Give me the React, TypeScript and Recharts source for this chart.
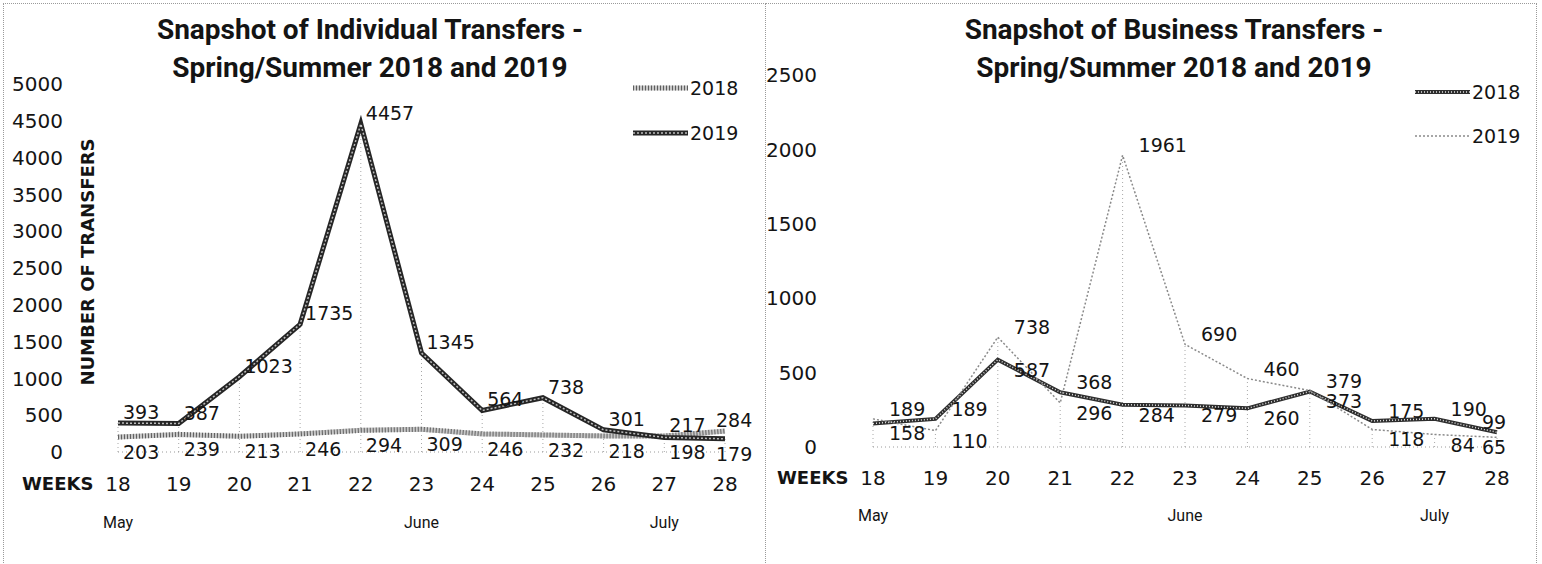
import React from 'react'
import { LineChart, Line, XAxis, YAxis, LabelList, ReferenceLine } from 'recharts'

const weeks = ['18', '19', '20', '21', '22', '23', '24', '25', '26', '27', '28']
const months = ['May', '', '', '', '', 'June', '', '', '', 'July', '']

const individual2018 = [203, 239, 213, 246, 294, 309, 246, 232, 218, 217, 284]
const individual2019 = [393, 387, 1023, 1735, 4457, 1345, 564, 738, 301, 198, 179]
const business2018 = [158, 189, 587, 368, 284, 279, 260, 373, 175, 190, 99]
const business2019 = [189, 110, 738, 296, 1961, 690, 460, 379, 118, 84, 65]

const individualTicks = [0, 500, 1000, 1500, 2000, 2500, 3000, 3500, 4000, 4500, 5000]
const businessTicks = [0, 500, 1000, 1500, 2000, 2500]

const FONT = '"DejaVu Sans", sans-serif'
const CAPTION = 'Roboto, "DejaVu Sans", sans-serif'
const INK = '#141414'
const X_AXIS_HEIGHT = 30

type LineStyle = { base: string; baseWidth: number; baseDash?: string; over?: string; overWidth?: number; overDash?: string }

const styles: Record<string, LineStyle> = {
  indiv2018: { base: '#c8c8c8', baseWidth: 5, over: '#5e5e5e', overWidth: 5, overDash: '1 2' },
  indiv2019: { base: '#262626', baseWidth: 5, over: '#bdbdbd', overWidth: 1.5, overDash: '2 2' },
  bus2018: { base: '#2e2e2e', baseWidth: 4, over: '#e0e0e0', overWidth: 1.5, overDash: '1 2' },
  bus2019: { base: '#8a8a8a', baseWidth: 1.5, baseDash: '2 2' },
}

const makeLabel = (own: number[], other: number[], dx: number, lastDx: number, up: number, down: number) => (props: any) => {
  const { x, y, index, value } = props
  if (x == null || y == null) return null
  const above = own[index] >= other[index]
  const shift = index === own.length - 1 ? lastDx : dx
  return (
    <text x={x + shift} y={y + (above ? up : down)} fontSize={19} fill={INK} fontFamily={FONT} textAnchor="start" dominantBaseline="central">
      {value}
    </text>
  )
}

const makeTick = (weekDy: number, monthDy: number) => (props: any) => {
  const { x, y, payload, index } = props
  return (
    <g>
      <text x={x} y={y + weekDy} textAnchor="middle" dominantBaseline="central" fontSize={20} fill={INK} fontFamily={FONT}>
        {payload.value}
      </text>
      {months[index] ? (
        <text x={x} y={y + monthDy} textAnchor="middle" dominantBaseline="central" fontSize={16} fill={INK} fontFamily={CAPTION}>
          {months[index]}
        </text>
      ) : null}
    </g>
  )
}

const Sample = ({ s }: { s: LineStyle }) => (
  <svg width={55} height={10} style={{ display: 'block' }}>
    <line x1={0} x2={55} y1={5} y2={5} stroke={s.base} strokeWidth={s.baseWidth} strokeDasharray={s.baseDash} />
    {s.over ? <line x1={0} x2={55} y1={5} y2={5} stroke={s.over} strokeWidth={s.overWidth} strokeDasharray={s.overDash} /> : null}
  </svg>
)

interface PanelProps {
  left: number
  width: number
  title: string[]
  titleCenter: number
  a: number[]
  b: number[]
  styleA: LineStyle
  styleB: LineStyle
  yTicks: number[]
  plotTop: number
  plotBottom: number
  plotRight: number
  yAxisWidth: number
  yTickMargin: number
  weekDy: number
  monthDy: number
  labelDx: number
  labelLastDx: number
  labelUp: number
  labelDown: number
  legendLeft: number
  legendRows: number[]
  weeksLabel: { x: number; y: number }
  yTitle?: { x: number; y: number }
}

function Panel(p: PanelProps) {
  const data = weeks.map((w, i) => ({ week: w, y2018: p.a[i], y2019: p.b[i] }))
  const margin = { top: p.plotTop, right: p.width - p.plotRight, bottom: 564 - p.plotBottom - X_AXIS_HEIGHT, left: 0 }
  const renderLine = (key: string, s: LineStyle, own: number[], other: number[]) => {
    const lines = [
      <Line
        key={key + 'base'}
        dataKey={key}
        type="linear"
        stroke={s.base}
        strokeWidth={s.baseWidth}
        strokeDasharray={s.baseDash}
        dot={false}
        activeDot={false}
        isAnimationActive={false}
      >
        <LabelList dataKey={key} content={makeLabel(own, other, p.labelDx, p.labelLastDx, p.labelUp, p.labelDown)} />
      </Line>,
    ]
    if (s.over) {
      lines.push(
        <Line
          key={key + 'over'}
          dataKey={key}
          type="linear"
          stroke={s.over}
          strokeWidth={s.overWidth}
          strokeDasharray={s.overDash}
          dot={false}
          activeDot={false}
          isAnimationActive={false}
        />
      )
    }
    return lines
  }

  return (
    <div style={{ position: 'absolute', left: p.left, top: 0, width: p.width, height: 564 }}>
      <LineChart width={p.width} height={564} data={data} margin={margin}>
        <XAxis
          dataKey="week"
          height={X_AXIS_HEIGHT}
          tickSize={0}
          tickMargin={0}
          tickLine={false}
          axisLine={{ stroke: '#9a9a9a', strokeDasharray: '1 3' }}
          interval={0}
          tick={makeTick(p.weekDy, p.monthDy)}
        />
        <YAxis
          domain={[0, p.yTicks[p.yTicks.length - 1]]}
          ticks={p.yTicks}
          interval={0}
          width={p.yAxisWidth}
          axisLine={false}
          tickLine={false}
          tickSize={0}
          tickMargin={p.yTickMargin}
          tick={{ fontSize: 20, fill: INK, fontFamily: FONT }}
        />
        {weeks.map((w, i) => (
          <ReferenceLine
            key={'drop' + w}
            segment={[
              { x: w, y: 0 },
              { x: w, y: p.b[i] },
            ]}
            stroke="#a8a8a8"
            strokeWidth={1}
            strokeDasharray="1 3"
          />
        ))}
        {renderLine('y2018', p.styleA, p.a, p.b)}
        {renderLine('y2019', p.styleB, p.b, p.a)}
      </LineChart>
      {(
        [
          ['2018', p.styleA],
          ['2019', p.styleB],
        ] as [string, LineStyle][]
      ).map(([name, s], i) => (
        <div
          key={name}
          style={{ position: 'absolute', left: p.legendLeft, top: p.legendRows[i] - 11, display: 'flex', alignItems: 'center', gap: 2, height: 22 }}
        >
          <Sample s={s} />
          <span style={{ fontFamily: FONT, fontSize: 19, color: INK, lineHeight: '22px' }}>{name}</span>
        </div>
      ))}
      <div
        style={{
          position: 'absolute',
          left: p.titleCenter - 300,
          top: 11,
          width: 600,
          textAlign: 'center',
          fontFamily: CAPTION,
          fontWeight: 'bold',
          fontSize: 28,
          lineHeight: '38px',
          color: INK,
        }}
      >
        {p.title.map((t) => (
          <div key={t}>{t}</div>
        ))}
      </div>
      <div
        style={{
          position: 'absolute',
          left: p.weeksLabel.x,
          top: p.weeksLabel.y - 13,
          fontFamily: FONT,
          fontWeight: 'bold',
          fontSize: 18,
          lineHeight: '26px',
          color: INK,
        }}
      >
        WEEKS
      </div>
      {p.yTitle ? (
        <div
          style={{
            position: 'absolute',
            left: p.yTitle.x - 150,
            top: p.yTitle.y - 12,
            width: 300,
            textAlign: 'center',
            transform: 'rotate(-90deg)',
            fontFamily: FONT,
            fontWeight: 'bold',
            fontSize: 18,
            lineHeight: '24px',
            color: INK,
          }}
        >
          NUMBER OF TRANSFERS
        </div>
      ) : null}
    </div>
  )
}

export default function App() {
  return (
    <div style={{ position: 'absolute', left: 0, top: 0, width: 1542, height: 564, background: '#fff', overflow: 'hidden' }}>
      <div style={{ position: 'absolute', left: 3, top: 3, width: 763, height: 570, border: '1px dotted #9a9a9a', boxSizing: 'border-box' }} />
      <div style={{ position: 'absolute', left: 766, top: 3, width: 771, height: 570, border: '1px dotted #9a9a9a', borderLeft: 'none', boxSizing: 'border-box' }} />
      <Panel
        left={0}
        width={766}
        title={['Snapshot of Individual Transfers -', 'Spring/Summer 2018 and 2019']}
        titleCenter={370}
        a={individual2018}
        b={individual2019}
        styleA={styles.indiv2018}
        styleB={styles.indiv2019}
        yTicks={individualTicks}
        plotTop={84}
        plotBottom={452}
        plotRight={725}
        yAxisWidth={118}
        yTickMargin={55}
        weekDy={32}
        monthDy={70}
        labelDx={5}
        labelLastDx={-9}
        labelUp={-11}
        labelDown={15}
        legendLeft={633}
        legendRows={[88, 133]}
        weeksLabel={{ x: 22, y: 484 }}
        yTitle={{ x: 88, y: 262 }}
      />
      <Panel
        left={766}
        width={776}
        title={['Snapshot of Business Transfers -', 'Spring/Summer 2018 and 2019']}
        titleCenter={408}
        a={business2018}
        b={business2019}
        styleA={styles.bus2018}
        styleB={styles.bus2019}
        yTicks={businessTicks}
        plotTop={75}
        plotBottom={447}
        plotRight={1497 - 766}
        yAxisWidth={107}
        yTickMargin={56}
        weekDy={31}
        monthDy={68}
        labelDx={16}
        labelLastDx={-15}
        labelUp={-10}
        labelDown={10}
        legendLeft={649}
        legendRows={[92, 136]}
        weeksLabel={{ x: 11, y: 478 }}
      />
    </div>
  )
}
